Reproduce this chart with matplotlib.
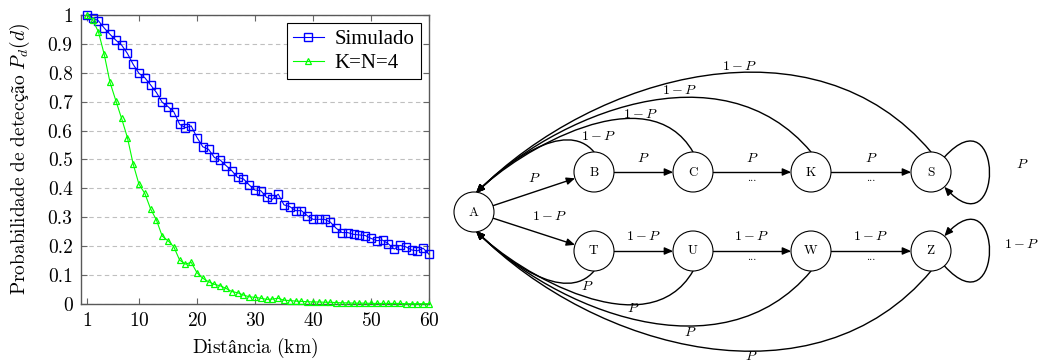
import numpy as np
import matplotlib
matplotlib.use('Agg')
import matplotlib.pyplot as plt
from matplotlib.patches import Circle, FancyArrowPatch
from matplotlib.path import Path

plt.rcParams['mathtext.fontset'] = 'cm'
plt.rcParams['font.family'] = ['cmr10', 'STIXGeneral']
plt.rcParams['axes.formatter.use_mathtext'] = True

# ---- dados do grafico ----
distancia = list(range(1, 61))
simulado = [1.0, 0.99, 0.98, 0.955, 0.933, 0.913, 0.896, 0.867, 0.829, 0.798,
            0.783, 0.758, 0.732, 0.698, 0.683, 0.665, 0.622, 0.610, 0.616, 0.576,
            0.544, 0.535, 0.507, 0.498, 0.479, 0.461, 0.438, 0.433, 0.412, 0.394,
            0.392, 0.369, 0.362, 0.380, 0.343, 0.337, 0.323, 0.323, 0.306, 0.293,
            0.293, 0.293, 0.283, 0.262, 0.247, 0.247, 0.241, 0.239, 0.237, 0.227,
            0.219, 0.221, 0.208, 0.190, 0.203, 0.198, 0.187, 0.184, 0.193, 0.172]
analitico = [1.0, 0.983, 0.942, 0.864, 0.767, 0.704, 0.642, 0.576, 0.484, 0.414,
             0.383, 0.329, 0.291, 0.235, 0.219, 0.198, 0.152, 0.138, 0.144, 0.108,
             0.089, 0.077, 0.068, 0.063, 0.054, 0.043, 0.039, 0.031, 0.025, 0.023,
             0.020, 0.016, 0.017, 0.020, 0.013, 0.012, 0.010, 0.009, 0.008, 0.007,
             0.007, 0.006, 0.006, 0.005, 0.004, 0.004, 0.003, 0.003, 0.003, 0.002,
             0.002, 0.002, 0.002, 0.002, 0.002, 0.001, 0.001, 0.001, 0.001, 0.001]
legend_labels = ['Simulado', 'K=N=4']
x_ticks = [1, 10, 20, 30, 40, 50, 60]
y_ticks = [0, 0.1, 0.2, 0.3, 0.4, 0.5, 0.6, 0.7, 0.8, 0.9, 1]
y_ticklabels = ['0', '0.1', '0.2', '0.3', '0.4', '0.5', '0.6', '0.7', '0.8', '0.9', '1']

# ---- dados do diagrama ----
start_node = 'A'
top_nodes = ['B', 'C', 'K', 'S']
bottom_nodes = ['T', 'U', 'W', 'Z']
top_step_labels = ['$P$', '$P$', '$P$']
bottom_step_labels = ['$1-P$', '$1-P$', '$1-P$']
step_gaps = ['', '...', '...']
top_back_labels = ['$1-P$', '$1-P$', '$1-P$', '$1-P$']
bottom_back_labels = ['$P$', '$P$', '$P$', '$P$']
entry_labels = ['$P$', '$1-P$']
loop_labels = ['$P$', '$1-P$']

# layout do diagrama (pixels)
a_xy = (474, 212)
col_x = [594, 693, 811, 931]
row_y = [172, 251]
node_r = 20
back_out_ang = [130, 120, 130, 130]
back_len_out = [45, 90, 140, 180]
back_len_in = [40, 60, 110, 170]
top_back_label_xy = [(599, 137), (641, 115), (680, 90), (740, 66)]
bottom_back_label_xy = [(587, 287), (633, 308), (690, 333), (751, 356)]
FS_LAB = 10

fig = plt.figure(figsize=(10.41, 3.61), dpi=100)

# ===== diagrama (coordenadas em pixels) =====
axd = fig.add_axes([0, 0, 1, 1])
axd.set_xlim(0, 1041)
axd.set_ylim(361, 0)
axd.axis('off')

LW = 1.0
ASTYLE = '-|>,head_length=0.5,head_width=0.22'


def arrow_path(verts, codes):
    p = FancyArrowPatch(path=Path(verts, codes), arrowstyle=ASTYLE,
                        mutation_scale=10, lw=LW, color='black',
                        shrinkA=0, shrinkB=0, zorder=2)
    axd.add_patch(p)


def boundary(c, ang):
    a = np.deg2rad(ang)
    return (c[0] + node_r * np.cos(a), c[1] - node_r * np.sin(a))


def node(c, name):
    axd.add_patch(Circle(c, node_r, facecolor='white', edgecolor='black', lw=0.8, zorder=3))
    axd.text(c[0], c[1], r'$\mathrm{%s}$' % name, ha='center', va='center',
             fontsize=9.5, zorder=4)


# nos
node(a_xy, start_node)
for i, name in enumerate(top_nodes):
    node((col_x[i], row_y[0]), name)
for i, name in enumerate(bottom_nodes):
    node((col_x[i], row_y[1]), name)

# A -> B e A -> T
for k, row in enumerate(row_y):
    tgt = (col_x[0], row)
    d = np.array(tgt) - np.array(a_xy)
    ang = np.degrees(np.arctan2(-d[1], d[0]))
    p0 = boundary(a_xy, ang)
    p1 = boundary(tgt, ang + 180)
    arrow_path([p0, p1], [Path.MOVETO, Path.LINETO])
    mid = ((p0[0] + p1[0]) / 2, (p0[1] + p1[1]) / 2)
    if k == 0:
        axd.text(mid[0], mid[1] - 14, entry_labels[k], ha='center', va='center', fontsize=FS_LAB)
    else:
        axd.text(mid[0] + 16, mid[1] - 15, entry_labels[k], ha='center', va='center', fontsize=FS_LAB)

# cadeias horizontais
for k, (row, labs) in enumerate(zip(row_y, [top_step_labels, bottom_step_labels])):
    for i in range(3):
        p0 = (col_x[i] + node_r, row)
        p1 = (col_x[i + 1] - node_r, row)
        arrow_path([p0, p1], [Path.MOVETO, Path.LINETO])
        mx = (col_x[i] + col_x[i + 1]) / 2
        axd.text(mx, row - 14, labs[i], ha='center', va='center', fontsize=FS_LAB)
        if step_gaps[i]:
            axd.text(mx, row + 6, step_gaps[i], ha='center', va='center', fontsize=8)

# arcos de volta para A
for k, (row, labs, lab_xy) in enumerate(zip(row_y, [top_back_labels, bottom_back_labels],
                                             [top_back_label_xy, bottom_back_label_xy])):
    s = -1 if k == 0 else 1
    a_end = (a_xy[0] + 2, a_xy[1] + s * (node_r - 1))
    for i in range(4):
        p0 = (col_x[i], row + s * node_r)
        a = np.deg2rad(back_out_ang[i])
        p1 = (p0[0] + back_len_out[i] * np.cos(a), p0[1] + s * back_len_out[i] * np.sin(a))
        p2 = (a_end[0] + back_len_in[i] * 0.707, a_end[1] + s * back_len_in[i] * 0.707)
        arrow_path([p0, p1, p2, a_end], [Path.MOVETO, Path.CURVE4, Path.CURVE4, Path.CURVE4])
        axd.text(lab_xy[i][0], lab_xy[i][1], labs[i], ha='center', va='center', fontsize=FS_LAB)

# lacos em S e Z
for k, row in enumerate(row_y):
    c = (col_x[3], row)
    up = boundary(c, 48)
    dn = boundary(c, -48)
    if k == 0:
        verts = [up, (up[0] + 60, up[1] - 66), (dn[0] + 60, dn[1] + 66), dn]
    else:
        verts = [dn, (dn[0] + 60, dn[1] + 66), (up[0] + 60, up[1] - 66), up]
    arrow_path(verts, [Path.MOVETO, Path.CURVE4, Path.CURVE4, Path.CURVE4])
    axd.text(1022, row - 7, loop_labels[k], ha='center', va='center', fontsize=FS_LAB)

# ===== grafico =====
ax = fig.add_axes([0.0778, 0.1579, 0.3343, 0.8006])
ax.plot(distancia, simulado, color='blue', lw=0.8, marker='s', ms=5.5, mfc='none',
        mew=1.0, label=legend_labels[0], clip_on=False, zorder=3)
ax.plot(distancia, analitico, color=(0, 1, 0), lw=0.8, marker='^', ms=5, mfc='none',
        mew=0.9, label=legend_labels[1], clip_on=False, zorder=3)
ax.set_xlim(0, 60)
ax.set_ylim(0, 1)
ax.set_xticks(x_ticks)
ax.set_yticks(y_ticks)
ax.set_yticklabels(y_ticklabels)
ax.tick_params(direction='in', top=True, right=True, length=4, width=0.8,
               labelsize=14, color='0.4', pad=6)
ax.yaxis.grid(True, ls=(0, (4, 3)), color='0.75', lw=0.8)
ax.set_axisbelow(True)
for sp in ax.spines.values():
    sp.set_color('0.35')
    sp.set_linewidth(1.0)
ax.set_xlabel(r'$\mathrm{Distância\ (km)}$', fontsize=14)
ax.set_ylabel(r'$\mathrm{Probabilidade\ de\ detecção}\ P_d(d)$', fontsize=14)
ax.xaxis.set_label_coords(0.5, -0.112)
ax.yaxis.set_label_coords(-0.141, 0.5)
leg = ax.legend(loc='upper right', prop={'family': 'Liberation Serif', 'size': 15},
                fancybox=False, edgecolor='black', framealpha=1, borderpad=0.3,
                handlelength=1.5, handletextpad=0.5, labelspacing=0.2, borderaxespad=0.4)
leg.get_frame().set_linewidth(0.8)

fig.savefig('out.png', dpi=100)
